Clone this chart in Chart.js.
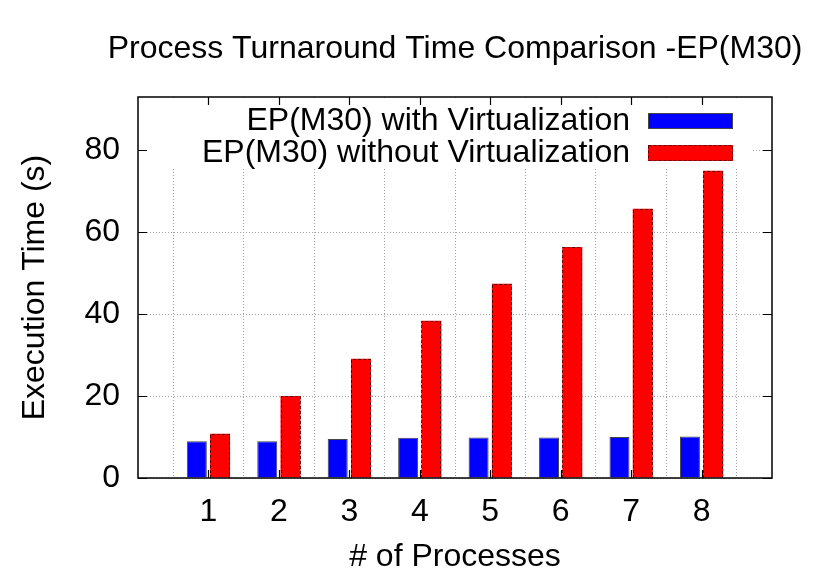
<!DOCTYPE html>
<html>
<head>
<meta charset="utf-8">
<script src="https://cdn.jsdelivr.net/npm/chart.js@4/dist/chart.umd.min.js"></script>
<style>
html,body{margin:0;padding:0;background:#fff;}
#wrap{width:830px;height:581px;position:relative;}
</style>
</head>
<body>
<div id="wrap"><canvas id="c"></canvas></div>
<script>
const TITLE = "Process Turnaround Time Comparison -EP(M30)";
const X_TITLE = "# of Processes";
const Y_TITLE = "Execution Time (s)";
const processes = [1, 2, 3, 4, 5, 6, 7, 8];
const withVirt = [9.0, 9.0, 9.5, 9.8, 9.9, 9.9, 10.0, 10.1];
const withoutVirt = [10.8, 20.0, 29.1, 38.4, 47.4, 56.4, 65.7, 75.0];
const seriesLabels = ["EP(M30) with Virtualization", "EP(M30) without Virtualization"];
const yTicks = [0, 20, 40, 60, 80];
const xTicks = [1, 2, 3, 4, 5, 6, 7, 8];

const FONT = "'Liberation Sans', Arial, Helvetica, sans-serif";

const toPts = (ys) => processes.map((x, i) => ({x: x, y: ys[i]}));

const gnuplotPlugin = {
  id: 'gnuplotDeco',
  beforeDatasetsDraw(chart) {
    // opaque key box over the grid
    const ctx = chart.ctx, ca = chart.chartArea;
    ctx.save();
    ctx.fillStyle = '#fff';
    ctx.fillRect(ca.left + 1, ca.top + 1, 752 - ca.left, 168 - ca.top);
    ctx.restore();
  },
  afterDatasetsDraw(chart) {
    const ctx = chart.ctx, ca = chart.chartArea;
    ctx.save();
    // dashed outline for the red bars
    const meta = chart.getDatasetMeta(1);
    ctx.strokeStyle = 'rgba(40,0,0,0.75)';
    ctx.lineWidth = 1;
    ctx.setLineDash([3, 2]);
    meta.data.forEach(el => {
      const w = el.width;
      const l = Math.round(el.x - w / 2) + 0.5, r = Math.round(el.x + w / 2) - 0.5;
      const t = Math.round(el.y) + 0.5, b = Math.round(el.base);
      ctx.beginPath();
      ctx.moveTo(l, b); ctx.lineTo(l, t); ctx.lineTo(r, t); ctx.lineTo(r, b);
      ctx.stroke();
    });
    ctx.setLineDash([]);

    // frame
    ctx.strokeStyle = '#000';
    ctx.lineWidth = 1.5;
    ctx.strokeRect(ca.left, ca.top, ca.right - ca.left, ca.bottom - ca.top);

    // inward ticks on all sides
    const xs = chart.scales.x, ys = chart.scales.y;
    ctx.lineWidth = 1.2;
    ctx.beginPath();
    xTicks.forEach(v => {
      const p = Math.round(xs.getPixelForValue(v)) + 0.5;
      ctx.moveTo(p, ca.bottom); ctx.lineTo(p, ca.bottom - 8);
      ctx.moveTo(p, ca.top); ctx.lineTo(p, ca.top + 8);
    });
    yTicks.forEach(v => {
      const p = Math.round(ys.getPixelForValue(v)) + 0.5;
      ctx.moveTo(ca.left, p); ctx.lineTo(ca.left + 9, p);
      ctx.moveTo(ca.right, p); ctx.lineTo(ca.right - 9, p);
    });
    ctx.stroke();

    // title, centred over the plot area
    ctx.font = "32px " + FONT;
    ctx.fillStyle = '#000';
    ctx.textAlign = 'center';
    ctx.textBaseline = 'middle';
    ctx.fillText(TITLE, (ca.left + ca.right) / 2, 49);

    // key
    ctx.textAlign = 'right';
    const rows = [121, 153];
    chart.data.datasets.forEach((ds, i) => {
      const y = rows[i];
      ctx.fillStyle = '#000';
      ctx.fillText(ds.label, 630, y);
      ctx.fillStyle = ds.backgroundColor;
      ctx.fillRect(648, y - 8, 85, 16);
      if (i === 0) {
        ctx.strokeStyle = '#444';
        ctx.lineWidth = 1;
        ctx.strokeRect(648.5, y - 7.5, 84, 15);
      } else {
        ctx.strokeStyle = 'rgba(40,0,0,0.75)';
        ctx.lineWidth = 1;
        ctx.setLineDash([3, 2]);
        ctx.strokeRect(648.5, y - 7.5, 84, 15);
        ctx.setLineDash([]);
      }
    });
    ctx.restore();
  }
};

new Chart(document.getElementById('c'), {
  type: 'bar',
  data: {
    datasets: [
      {
        label: seriesLabels[0],
        data: toPts(withVirt),
        backgroundColor: '#0000ff',
        borderColor: '#444',
        borderWidth: 1,
        borderSkipped: 'start',
        categoryPercentage: 0.66,
        barPercentage: 0.86
      },
      {
        label: seriesLabels[1],
        data: toPts(withoutVirt),
        backgroundColor: '#ff0000',
        borderWidth: 0,
        categoryPercentage: 0.66,
        barPercentage: 0.86
      }
    ]
  },
  options: {
    responsive: true,
    maintainAspectRatio: false,
    animation: false,
    layout: {padding: {left: 0, right: 58, top: 97, bottom: 0}},
    plugins: {
      legend: {display: false},
      tooltip: {enabled: false},
      title: {display: false}
    },
    scales: {
      x: {
        type: 'linear',
        min: 0,
        max: 9,
        offset: false,
        afterBuildTicks: (s) => { s.ticks = xTicks.map(v => ({value: v})); },
        afterFit: (s) => { s.height = 103; },
        ticks: {
          color: '#000',
          font: {family: FONT, size: 32},
          padding: 15,
          maxRotation: 0,
          autoSkip: false
        },
        grid: {
          color: '#a0a0a0',
          lineWidth: 1,
          drawTicks: false
        },
        border: {display: false, dash: [1, 2]},
        title: {
          display: true,
          text: X_TITLE,
          color: '#000',
          font: {family: FONT, size: 32},
          padding: {top: 0, bottom: 5}
        }
      },
      y: {
        min: 0,
        max: 93,
        afterBuildTicks: (s) => { s.ticks = yTicks.map(v => ({value: v})); },
        afterFit: (s) => { s.width = 138; },
        ticks: {
          color: '#000',
          font: {family: FONT, size: 32},
          padding: 18
        },
        grid: {
          color: '#a0a0a0',
          lineWidth: 1,
          drawTicks: false
        },
        border: {display: false, dash: [1, 2]},
        title: {
          display: true,
          text: Y_TITLE,
          color: '#000',
          font: {family: FONT, size: 32},
          padding: {top: 16, bottom: 0}
        }
      }
    }
  },
  plugins: [gnuplotPlugin]
});
</script>
</body>
</html>
